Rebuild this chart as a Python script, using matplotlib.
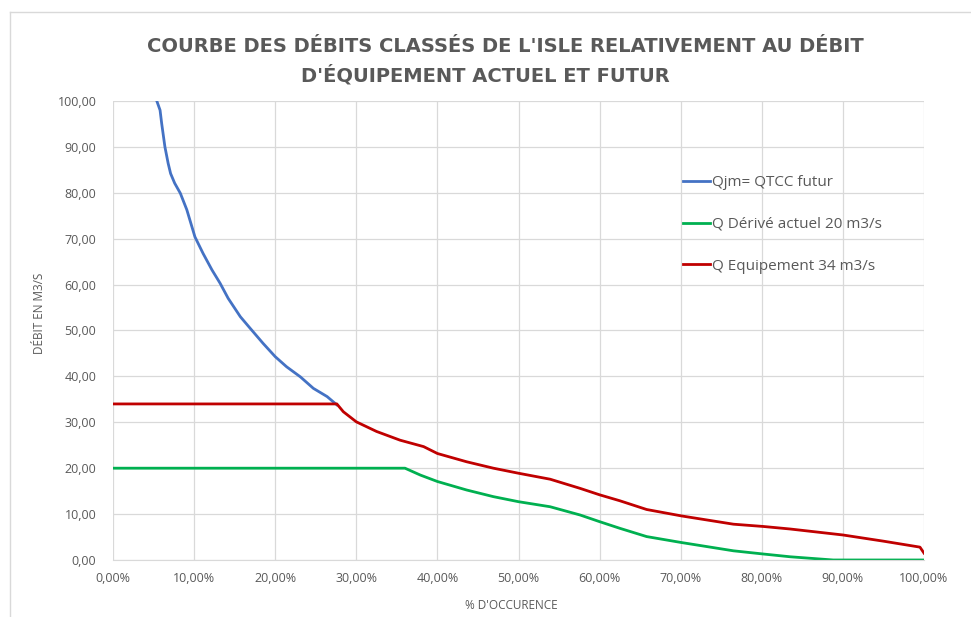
import matplotlib
matplotlib.use('Agg')
import matplotlib.pyplot as plt
from matplotlib.ticker import FuncFormatter, MultipleLocator
from matplotlib.lines import Line2D

# courbe des débits classés
pct_qjm = [5.4, 5.8, 6.0, 6.4, 6.8, 7.1, 7.6, 8.3, 9.1, 10.1, 11.1, 12.2,
           13.2, 14.2, 15.7, 16.9, 18.5, 20.0, 21.4, 23.1, 24.7, 26.4, 27.4,
           27.6]
q_qjm = [100.0, 98.0, 95.1, 90.0, 86.4, 84.2, 82.1, 79.9, 76.3, 70.4, 66.8,
         63.2, 60.3, 57.0, 53.0, 50.5, 47.2, 44.3, 42.1, 39.9, 37.4, 35.6,
         34.1, 33.8]

pct_derive = [0.0, 36.0, 37.9, 40.0, 43.6, 46.9, 50.0, 53.9, 57.6, 60.0,
              62.5, 65.8, 70.1, 76.5, 80.2, 83.5, 88.8, 100.0]
q_derive = [20.0, 20.0, 18.5, 17.1, 15.25, 13.8, 12.7, 11.6, 9.8, 8.35,
            6.9, 5.1, 3.8, 2.0, 1.3, 0.7, 0.0, 0.0]

pct_equip = [0.0, 27.6, 28.4, 30.0, 32.5, 35.4, 38.3, 40.0, 43.6, 46.9,
             50.0, 53.9, 57.6, 60.0, 62.5, 65.8, 70.1, 76.5, 80.2, 83.5,
             90.0, 95.0, 99.5, 100.0]
q_equip = [34.0, 34.0, 32.3, 30.1, 28.0, 26.1, 24.7, 23.2, 21.4, 20.0,
           18.9, 17.6, 15.6, 14.2, 12.9, 11.0, 9.6, 7.8, 7.3, 6.75,
           5.45, 4.1, 2.8, 1.5]

labels = ['Qjm= QTCC futur', 'Q Dérivé actuel 20 m3/s', 'Q Equipement 34 m3/s']
colors = ['#4472C4', '#00B050', '#C00000']

GRAY = '#595959'
GRID = '#D9D9D9'
LW = 2.0

plt.rcParams['font.family'] = ['Open Sans', 'DejaVu Sans']

fig = plt.figure(figsize=(9.71, 6.17), dpi=100)
ax = fig.add_axes([0.1164, 0.0924, 0.8352, 0.7439])

ax.plot(pct_qjm, q_qjm, color=colors[0], lw=LW)
ax.plot(pct_derive, q_derive, color=colors[1], lw=LW)
ax.plot(pct_equip, q_equip, color=colors[2], lw=LW)

ax.set_xlim(0, 100)
ax.set_ylim(0, 100)
ax.xaxis.set_major_locator(MultipleLocator(10))
ax.yaxis.set_major_locator(MultipleLocator(10))
ax.xaxis.set_major_formatter(FuncFormatter(lambda v, p: f'{v:.2f}%'.replace('.', ',')))
ax.yaxis.set_major_formatter(FuncFormatter(lambda v, p: f'{v:.2f}'.replace('.', ',')))
ax.grid(True, color=GRID, lw=0.9)
ax.set_axisbelow(True)
for s in ['top', 'right', 'left']:
    ax.spines[s].set_visible(False)
ax.spines['bottom'].set_color(GRID)
ax.tick_params(length=0, labelsize=9, labelcolor=GRAY)
ax.tick_params(axis='y', pad=12)
ax.tick_params(axis='x', pad=9)

# titre
title_kw = dict(ha='center', va='center', fontsize=14, fontweight='bold',
                color=GRAY, family='DejaVu Sans')
fig.text(0.52, 0.925, "COURBE DES DÉBITS CLASSÉS DE L'ISLE RELATIVEMENT AU DÉBIT", **title_kw)
fig.text(0.50, 0.878, "D'ÉQUIPEMENT ACTUEL ET FUTUR", **title_kw)

fig.text(0.041, 0.493, 'DÉBIT EN M3/S', rotation=90, ha='center', va='center',
         fontsize=8.5, color=GRAY)
fig.text(0.527, 0.019, "% D'OCCURENCE", ha='center', va='center',
         fontsize=8.5, color=GRAY)

handles = [Line2D([], [], color=c, lw=LW) for c in colors]
fig.legend(handles, labels, loc='upper left', bbox_to_anchor=(0.703, 0.716),
           frameon=False, fontsize=11, labelcolor=GRAY, handlelength=1.8,
           handletextpad=0.13, labelspacing=1.75, borderpad=0, borderaxespad=0)

# bordure de la zone graphique
fig.add_artist(Line2D([10 / 971, 1], [1 - 12 / 617, 1 - 12 / 617],
                      color=GRID, lw=1, transform=fig.transFigure))
fig.add_artist(Line2D([10 / 971, 10 / 971], [0, 1 - 12 / 617],
                      color=GRID, lw=1, transform=fig.transFigure))

fig.savefig('out.png', dpi=100)
